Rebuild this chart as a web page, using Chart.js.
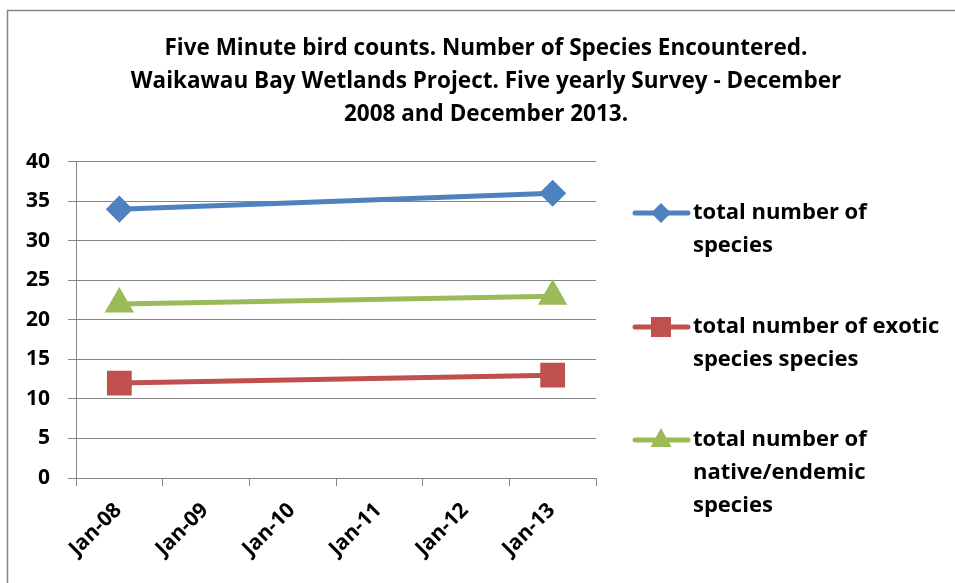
<!DOCTYPE html>
<html>
<head>
<meta charset="utf-8">
<script src="https://cdn.jsdelivr.net/npm/chart.js@4/dist/chart.umd.min.js"></script>
<style>
  html, body { margin: 0; padding: 0; background: #fff; }
  #wrap { position: relative; width: 955px; height: 583px; }
</style>
</head>
<body>
<div id="wrap"><canvas id="bird-chart"></canvas></div>
<script>
// data
const months = ['Jan-08', 'Jan-09', 'Jan-10', 'Jan-11', 'Jan-12', 'Jan-13'];
const totalSpecies = [34, null, null, null, null, 36];
const exoticSpecies = [12, null, null, null, null, 13];
const nativeSpecies = [22, null, null, null, null, 23];
const yTicks = [0, 5, 10, 15, 20, 25, 30, 35, 40];

const titleLines = [
  'Five Minute bird counts. Number of Species Encountered.',
  'Waikawau Bay Wetlands Project. Five yearly Survey - December',
  '2008 and December 2013.'
];

const seriesNames = [
  ['total number of', 'species'],
  ['total number of exotic', 'species species'],
  ['total number of', 'native/endemic', 'species']
];

const FONT = '"Open Sans"';
const GREY = '#868686';

function drawMarker(ctx, style, x, y, color){
  ctx.fillStyle = color;
  ctx.beginPath();
  if(style == 'rectRot'){
    ctx.moveTo(x - 10, y); ctx.lineTo(x, y - 10);
    ctx.lineTo(x + 10, y); ctx.lineTo(x, y + 10);
  }else if(style == 'rect'){
    ctx.rect(x - 10, y - 10, 20, 20);
  }else{
    ctx.moveTo(x, y - 12); ctx.lineTo(x + 10.5, y + 7); ctx.lineTo(x - 10.5, y + 7);
  }
  ctx.closePath();
  ctx.fill();
}

//frame round the chart + white background
const framePlugin = {
  id: 'frame',
  beforeDraw(chart){
    const ctx = chart.ctx;
    ctx.save();
    ctx.fillStyle = '#fff';
    ctx.fillRect(0, 0, chart.width, chart.height);
    ctx.strokeStyle = GREY;
    ctx.lineWidth = 1.5;
    ctx.strokeRect(7.5, 10.5, 1100, 700);
    ctx.restore();
  }
};

//legend on the right: line + marker, wrapped text
const sideLegend = {
  id: 'sideLegend',
  afterDraw(chart){
    const ctx = chart.ctx;
    const tops = [213, 327, 440];
    ctx.save();
    chart.data.datasets.forEach((ds, i) => {
      const y = tops[i];
      ctx.strokeStyle = ds.borderColor;
      ctx.lineWidth = 5;
      ctx.lineCap = 'round';
      ctx.beginPath();
      ctx.moveTo(635, y);
      ctx.lineTo(688, y);
      ctx.stroke();
      drawMarker(ctx, ds.pointStyle, 661, y, ds.borderColor);
      ctx.fillStyle = '#000';
      ctx.font = 'bold 22px ' + FONT;
      ctx.textBaseline = 'middle';
      ctx.textAlign = 'left';
      seriesNames[i].forEach((line, k) => {
        ctx.fillText(line, 693, y + k * 33);
      });
    });
    ctx.restore();
  }
};

const birdChart = document.getElementById('bird-chart');

new Chart(birdChart, {
  type: 'line',
  data: {
    labels: months,
    datasets: [{
      label: seriesNames[0].join(' '),
      data: totalSpecies,
      borderColor: '#4F81BD',
      backgroundColor: '#4F81BD',
      pointStyle: 'rectRot',
      pointRadius: 10,
      borderWidth: 5
    }, {
      label: seriesNames[1].join(' '),
      data: exoticSpecies,
      borderColor: '#C0504D',
      backgroundColor: '#C0504D',
      pointStyle: 'rect',
      pointRadius: 14,
      borderWidth: 5
    }, {
      label: seriesNames[2].join(' '),
      data: nativeSpecies,
      borderColor: '#9BBB59',
      backgroundColor: '#9BBB59',
      pointStyle: 'triangle',
      pointRadius: 12,
      borderWidth: 5
    }]
  },
  options: {
    responsive: true,
    maintainAspectRatio: false,
    animation: false,
    spanGaps: true,
    elements: {
      line: { tension: 0, borderCapStyle: 'round' },
      point: { borderWidth: 0, hoverRadius: 10 }
    },
    layout: { padding: { left: 17, top: 0, right: 0, bottom: 0 } },
    plugins: {
      legend: { display: false },
      tooltip: { enabled: false },
      title: {
        display: true,
        text: titleLines,
        color: '#000',
        font: { family: FONT, size: 22.5, weight: 'bold', lineHeight: '33px' },
        padding: { top: 32, bottom: 30.7 }
      }
    },
    scales: {
      x: {
        offset: true,
        grid: { offset: true, drawOnChartArea: false, color: GREY, tickLength: 8 },
        border: { color: GREY, width: 1 },
        ticks: {
          minRotation: 45, maxRotation: 45,
          color: '#000',
          padding: 12,
          labelOffset: -1,
          font: { family: FONT, size: 21, weight: 'bold' }
        },
        afterFit(scale){ scale.height = 105; }
      },
      y: {
        min: 0, max: 40,
        afterBuildTicks(scale){ scale.ticks = yTicks.map(v => ({ value: v })); },
        grid: { color: GREY, tickLength: 8 },
        border: { color: GREY, width: 1 },
        ticks: {
          color: '#000',
          padding: 18,
          font: { family: FONT, size: 21, weight: 'bold' }
        },
        afterFit(scale){ scale.width = 59; }
      },
      legendSpace: {
        position: 'right',
        grid: { drawOnChartArea: false, drawTicks: false },
        border: { display: false },
        ticks: { display: false },
        afterFit(scale){ scale.width = 359; }
      }
    }
  },
  plugins: [framePlugin, sideLegend]
});
</script>
</body>
</html>
